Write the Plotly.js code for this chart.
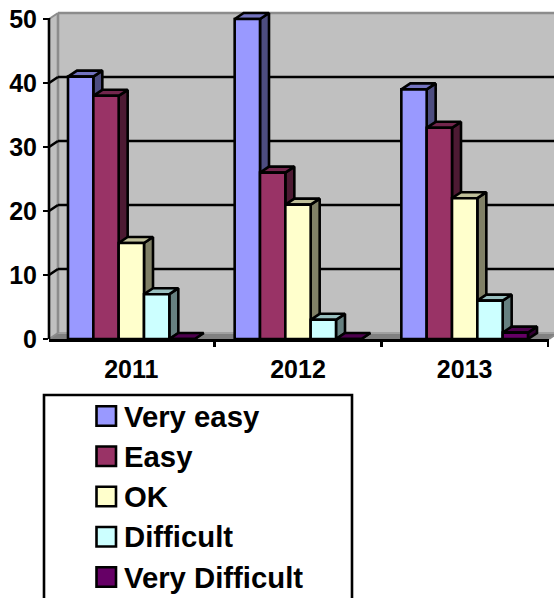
<!DOCTYPE html>
<html>
<head>
<meta charset="utf-8">
<script src="https://cdn.plot.ly/plotly-3.0.1.min.js"></script>
<style>html,body{margin:0;padding:0;background:#fff;overflow:hidden}#chart{width:554px;height:598px}</style>
</head>
<body>
<div id="chart"></div>
<script>
// Survey responses by year, drawn as a pseudo-3D clustered column chart
const years = ["2011", "2012", "2013"];
const seriesNames = ["Very easy", "Easy", "OK", "Difficult", "Very Difficult"];
const veryEasy = [41, 50, 39];
const easy = [38, 26, 33];
const ok = [15, 21, 22];
const difficult = [7, 3, 6];
const veryDifficult = [0, 0, 1];
const seriesValues = [veryEasy, easy, ok, difficult, veryDifficult];
const frontColors = ["#9999FF", "#993366", "#FFFFCC", "#CCFFFF", "#660066"];
const topColors = ["#7373BF", "#73264D", "#BFBF99", "#99BFBF", "#4D004D"];
const sideColors = ["#4D4D80", "#4D1A33", "#808066", "#668080", "#330033"];
const yTicks = [0, 10, 20, 30, 40, 50];

// Plot box and depth of the 3D effect, in pixels; the box starts above
// the 50 line so the column tops have room
const W = 554, H = 598;
const L = 49, R = 5, T = 5, B = 259;
const plotW = W - L - R, plotH = H - T - B;
const unitPx = 6.4;
const yMax = plotH / unitPx;
const depthX = 9, depthY = 6;
const bargap = 0.24;
const barW = (1 - bargap) / seriesNames.length;
const dx = depthX / (plotW / years.length);
const dy = depthY / unitPx;
const strokeW = 2.6;
const xRange = [-0.494, 2.506];

// Pixel position to paper coordinates
const px = x => (x - L) / plotW;
const py = y => 1 - (y - T) / plotH;
const valueY = v => T + plotH - v * unitPx;

// Side and top faces of every column, one polygon list per series
function faces(s) {
  const side = {x: [], y: []}, top = {x: [], y: []};
  seriesValues[s].forEach((v, c) => {
    const x0 = c - 0.5 + bargap / 2 + s * barW, x1 = x0 + barW;
    side.x.push(x1, x1 + dx, x1 + dx, x1, x1, null);
    side.y.push(0, dy, v + dy, v, 0, null);
    top.x.push(x0, x0 + dx, x1 + dx, x1, x0, null);
    top.y.push(v, v + dy, v + dy, v, v, null);
  });
  return {side, top};
}

const traces = [];
seriesNames.forEach((name, s) => {
  const f = faces(s);
  [[f.side, sideColors[s]], [f.top, topColors[s]]].forEach(([poly, color]) => {
    traces.push({
      type: "scatter", mode: "lines", x: poly.x, y: poly.y, xaxis: "x", yaxis: "y",
      fill: "toself", fillcolor: color, line: {color: "#000", width: strokeW},
      hoverinfo: "skip", showlegend: false
    });
  });
});
seriesNames.forEach((name, s) => {
  traces.push({
    type: "bar", name, x: years, y: seriesValues[s], xaxis: "x2", yaxis: "y2",
    marker: {color: frontColors[s], line: {color: "#000", width: strokeW}},
    cliponaxis: false, showlegend: false
  });
});

const shapes = [];
const paperShape = (o) => Object.assign({xref: "paper", yref: "paper", layer: "below"}, o);
const poly = (pts, fill, lineColor, lineWidth) => paperShape({
  type: "path",
  path: "M" + pts.map(p => px(p[0]) + "," + py(p[1])).join("L") + "Z",
  fillcolor: fill, line: {color: lineColor, width: lineWidth}
});
const seg = (x0, y0, x1, y1, color, width) => paperShape({
  type: "line", x0: px(x0), y0: py(y0), x1: px(x1), y1: py(y1), line: {color, width}
});
const yTop = valueY(50), yBase = valueY(0), wallX = L + depthX, rightX = W - R;

// Back wall, left wall and floor
shapes.push(poly([[wallX, yTop - depthY], [W + 10, yTop - depthY], [W + 10, yBase - depthY], [wallX, yBase - depthY]], "#C0C0C0", "rgba(0,0,0,0)", 0));
shapes.push(poly([[L, yTop], [wallX, yTop - depthY], [wallX, yBase - depthY], [L, yBase]], "#C0C0C0", "rgba(0,0,0,0)", 0));
shapes.push(poly([[L, yBase], [wallX, yBase - depthY], [rightX + depthX, yBase - depthY], [rightX, yBase]], "#808080", "rgba(0,0,0,0)", 0));
shapes.push(seg(wallX, yBase - depthY, W + 10, yBase - depthY, "#A0A0A0", 2));
shapes.push(seg(wallX, yTop - depthY, W + 10, yTop - depthY, "#8C8C8C", 2.6));
shapes.push(seg(wallX, yTop - depthY, wallX, yBase - depthY, "#8C8C8C", 2.6));
shapes.push(seg(L, yTop, wallX, yTop - depthY, "#8C8C8C", 2));
shapes.push(seg(L, yBase, wallX, yBase - depthY, "#8C8C8C", 2));
shapes.push(seg(rightX, yBase, rightX + depthX, yBase - depthY, "#8C8C8C", 2));

// Gridlines run along the back wall and step down the left wall
yTicks.filter(v => v > 0 && v < 50).forEach(v => {
  const y = valueY(v);
  shapes.push(seg(wallX, y - depthY, W + 10, y - depthY, "#000", strokeW));
  shapes.push(seg(L, y, wallX, y - depthY, "#000", strokeW));
});

// Value axis stops at the 50 line
shapes.push(seg(L, yTop - 1, L, yBase, "#000", strokeW));

// Legend panel, running past the lower edge of the page
const legendRowY = s => 416 + s * 40.25;
shapes.push(paperShape({
  type: "rect", layer: "above", x0: px(44), x1: px(352), y0: py(395), y1: py(H + 20),
  line: {color: "#000", width: strokeW}, fillcolor: "rgba(0,0,0,0)"
}));
const annotations = [];
seriesNames.forEach((name, s) => {
  const cy = legendRowY(s);
  shapes.push(paperShape({
    type: "rect", layer: "above", x0: px(96.5), x1: px(116), y0: py(cy - 9.75), y1: py(cy + 9.75),
    fillcolor: frontColors[s], line: {color: "#000", width: strokeW}
  }));
  annotations.push({
    xref: "paper", yref: "paper", x: px(123), y: py(cy), xanchor: "left", yanchor: "middle",
    text: name, showarrow: false, borderpad: 0,
    font: {family: "Liberation Sans, Arial, sans-serif", size: 29.3, color: "#000", weight: 700}
  });
});

const tickFont = {family: "Liberation Sans, Arial, sans-serif", size: 25, color: "#000", weight: 700};
const layout = {
  width: W, height: H, margin: {l: L, r: R, t: T, b: B, pad: 0},
  paper_bgcolor: "#fff", plot_bgcolor: "rgba(0,0,0,0)",
  barmode: "group", bargap, bargroupgap: 0, showlegend: false, hovermode: false,
  xaxis: {range: xRange, visible: false, fixedrange: true},
  yaxis: {range: [0, yMax], visible: false, fixedrange: true},
  xaxis2: {
    overlaying: "x", anchor: "y2", type: "category", categoryorder: "array", categoryarray: years,
    range: xRange, tickson: "boundaries", ticks: "outside", ticklen: 5, tickwidth: strokeW, tickcolor: "#000",
    showline: true, linecolor: "#000", linewidth: strokeW, showgrid: false, zeroline: false, tickfont: tickFont,
    ticklabelstandoff: 6, fixedrange: true
  },
  yaxis2: {
    overlaying: "y", anchor: "x2", side: "left", range: [0, yMax], tickvals: yTicks, ticktext: yTicks.map(String),
    ticks: "outside", ticklen: 5, tickwidth: strokeW, tickcolor: "#000", showline: false,
    showgrid: false, zeroline: false, tickfont: tickFont, ticklabelstandoff: 1, fixedrange: true
  },
  shapes, annotations
};
Plotly.newPlot("chart", traces, layout, {staticPlot: true, displayModeBar: false});
</script>
</body>
</html>
